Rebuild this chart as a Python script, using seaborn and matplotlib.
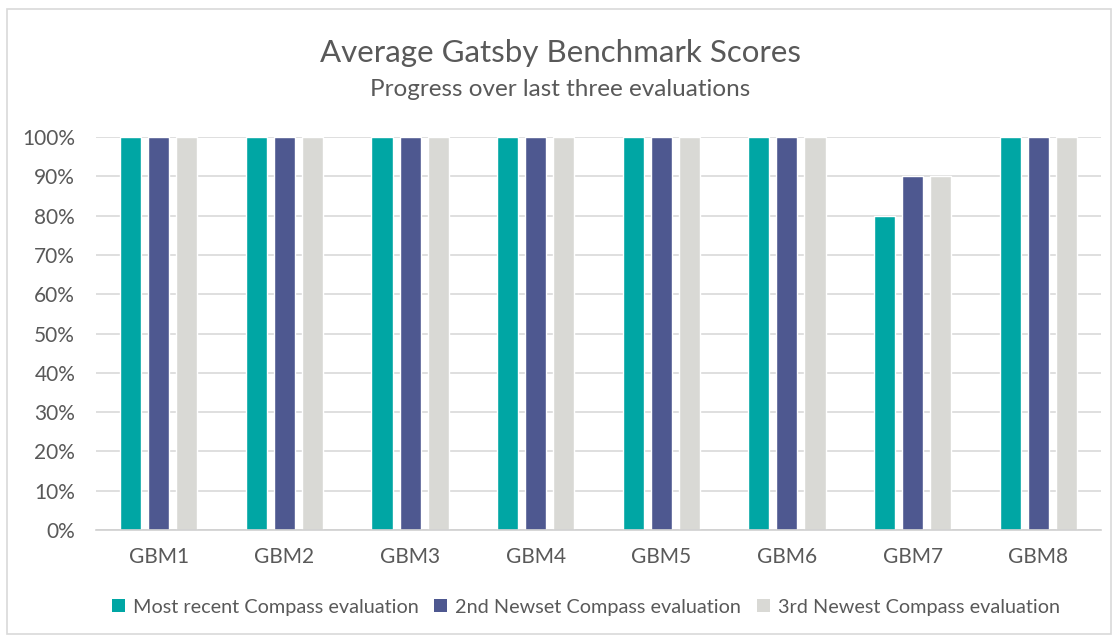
import matplotlib
matplotlib.use("Agg")
import matplotlib.pyplot as plt
import matplotlib.patches as mpatches
import seaborn as sns
import pandas as pd
from matplotlib.ticker import PercentFormatter

categories = ["GBM1", "GBM2", "GBM3", "GBM4", "GBM5", "GBM6", "GBM7", "GBM8"]
most_recent = [1.0, 1.0, 1.0, 1.0, 1.0, 1.0, 0.8, 1.0]
second_newest = [1.0, 1.0, 1.0, 1.0, 1.0, 1.0, 0.9, 1.0]
third_newest = [1.0, 1.0, 1.0, 1.0, 1.0, 1.0, 0.9, 1.0]
series_names = ["Most recent Compass evaluation",
                "2nd Newset Compass evaluation",
                "3rd Newest Compass evaluation"]
colors = ["#00A6A4", "#4E5890", "#D9D9D5"]

rows = []
for name, vals in zip(series_names, [most_recent, second_newest, third_newest]):
    for c, v in zip(categories, vals):
        rows.append({"GBM": c, "Series": name, "Score": v})
df = pd.DataFrame(rows)

sns.set_theme(style="white")
plt.rcParams["font.family"] = ["Lato", "DejaVu Sans"]
text_color = "#595959"

fig = plt.figure(figsize=(11.2, 6.39), dpi=100)
ax = fig.add_axes([96/1120, 1-530/639, (1101-96)/1120, (530-137)/639])

sns.barplot(data=df, x="GBM", y="Score", hue="Series", palette=colors,
            width=0.67, gap=0.25, ax=ax, saturation=1, legend=False)

ax.set_ylim(0, 1.0)
ax.set_xlim(-0.5, 7.5)
ax.set_yticks([i/10 for i in range(11)])
ax.yaxis.set_major_formatter(PercentFormatter(1.0, decimals=0))
ax.grid(axis="y", color="#D9D9D9", linewidth=1.2)
ax.set_axisbelow(True)
for s in ["top", "right", "left"]:
    ax.spines[s].set_visible(False)
ax.spines["bottom"].set_color("#D0D0D0")
ax.spines["bottom"].set_linewidth(1.2)
ax.set_xlabel("")
ax.set_ylabel("")
ax.tick_params(axis="both", length=0, labelsize=15, colors=text_color)
ax.tick_params(axis="y", pad=15)
ax.tick_params(axis="x", pad=12)

fig.text(0.5, 1-53/639, "Average Gatsby Benchmark Scores", ha="center", va="center",
         fontsize=22.5, color=text_color)
fig.text(0.5, 1-89/639, "Progress over last three evaluations", ha="center", va="center",
         fontsize=17.5, color=text_color)

handles = [mpatches.Patch(facecolor=c, edgecolor="none", label=n) for c, n in zip(colors, series_names)]
fig.legend(handles=handles, loc="center", bbox_to_anchor=(0.523, 1-607/639), ncol=3,
           frameon=False, fontsize=14.3, labelcolor=text_color, handlelength=0.65,
           handleheight=0.65, handletextpad=0.4, columnspacing=0.8)

border = mpatches.Rectangle((7/1120, 1-634/639), (1111-7)/1120, (634-9)/639,
                            transform=fig.transFigure, fill=False,
                            edgecolor="#D9D9D9", linewidth=1.2)
fig.patches.append(border)

fig.savefig("out.png", dpi=100)
